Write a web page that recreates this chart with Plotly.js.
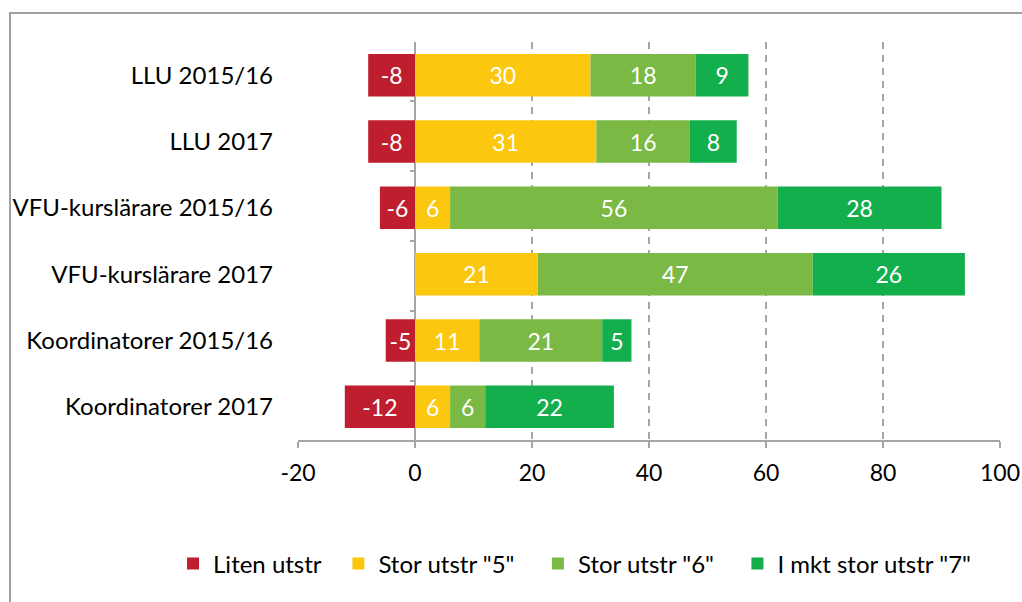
<!DOCTYPE html>
<html>
<head>
<meta charset="utf-8">
<script src="https://cdn.plot.ly/plotly-3.0.1.min.js"></script>
<style>
  html, body { margin: 0; padding: 0; background: #fff; overflow: hidden; }
  #chart { width: 1022px; height: 602px; position: absolute; left: 0; top: 0; }
  #frame { position: absolute; left: 9px; top: 12px; width: 1100px; height: 700px;
           border: 2px solid #A0A0A0; pointer-events: none; box-sizing: border-box; }
</style>
</head>
<body>
<div id="chart"></div>
<div id="frame"></div>
<script>
const categories = ["LLU 2015/16", "LLU 2017", "VFU-kurslärare 2015/16", "VFU-kurslärare 2017", "Koordinatorer 2015/16", "Koordinatorer 2017"];
const litenUtstr = [-8, -8, -6, null, -5, -12];
const storUtstr5 = [30, 31, 6, 21, 11, 6];
const storUtstr6 = [18, 16, 56, 47, 21, 6];
const mktStorUtstr7 = [9, 8, 28, 26, 5, 22];
const seriesNames = ["Liten utstr", "Stor utstr \"5\"", "Stor utstr \"6\"", "I mkt stor utstr \"7\""];
const seriesColors = ["#BE1E2D", "#FCC80F", "#7AB943", "#14AF4D"];
const xTicks = [-20, 0, 20, 40, 60, 80, 100];

const FONT = "Lato, 'Open Sans', sans-serif";
const seriesData = [litenUtstr, storUtstr5, storUtstr6, mktStorUtstr7];
// extra legend spacing (non-breaking spaces) to mimic the wider legend gaps
const legendPad = [2, 3, 3, 0];

const traces = seriesData.map((vals, i) => ({
  type: "bar",
  orientation: "h",
  name: seriesNames[i] + "\u00A0".repeat(legendPad[i]),
  y: categories,
  x: vals,
  marker: { color: seriesColors[i] },
  text: vals.map(v => v === null ? "" : String(v)),
  textposition: "inside",
  insidetextanchor: "middle",
  constraintext: "none",
  textfont: { color: "#FFFFFF", size: 23, family: FONT },
  hoverinfo: "x+name"
}));

// invisible helper trace for the category-boundary ticks on the zero axis
traces.push({
  type: "scatter",
  mode: "markers",
  y: categories,
  x: categories.map(() => null),
  yaxis: "y2",
  showlegend: false,
  hoverinfo: "skip"
});

const layout = {
  width: 1022,
  height: 602,
  margin: { l: 298, r: 22, t: 42, b: 162 },
  paper_bgcolor: "#FFFFFF",
  plot_bgcolor: "#FFFFFF",
  font: { family: FONT, size: 23, color: "#000000" },
  barmode: "relative",
  bargap: 0.36,
  showlegend: true,
  legend: {
    orientation: "h",
    x: -0.178,
    xanchor: "left",
    y: -0.255,
    yanchor: "top",
    font: { size: 24, family: FONT, color: "#000" },
    traceorder: "normal",
    itemwidth: 30
  },
  xaxis: {
    range: [-20, 100],
    tickvals: xTicks,
    ticktext: xTicks.map(String),
    showgrid: true,
    gridcolor: "#A6A6A6",
    gridwidth: 1.5,
    griddash: "7px,6px",
    zeroline: true,
    zerolinecolor: "#A6A6A6",
    zerolinewidth: 2,
    showline: true,
    linecolor: "#A6A6A6",
    linewidth: 2,
    ticks: "outside",
    ticklen: 6,
    tickwidth: 2,
    tickcolor: "#A6A6A6",
    ticklabelstandoff: 5,
    tickfont: { size: 23, family: FONT, color: "#000" },
    fixedrange: true
  },
  yaxis: {
    type: "category",
    categoryorder: "array",
    categoryarray: categories,
    autorange: "reversed",
    showgrid: false,
    showline: false,
    ticks: "",
    ticklabelstandoff: 24,
    tickfont: { size: 24, family: FONT, color: "#000" },
    fixedrange: true
  },
  yaxis2: {
    type: "category",
    categoryorder: "array",
    categoryarray: categories,
    autorange: "reversed",
    overlaying: "y",
    anchor: "free",
    position: 1 / 6,
    side: "left",
    showgrid: false,
    showline: false,
    showticklabels: false,
    ticks: "outside",
    tickson: "boundaries",
    ticklen: 5,
    tickwidth: 2,
    tickcolor: "#A6A6A6",
    fixedrange: true
  }
};

Plotly.newPlot("chart", traces, layout, { displayModeBar: false, staticPlot: true });
</script>
</body>
</html>
